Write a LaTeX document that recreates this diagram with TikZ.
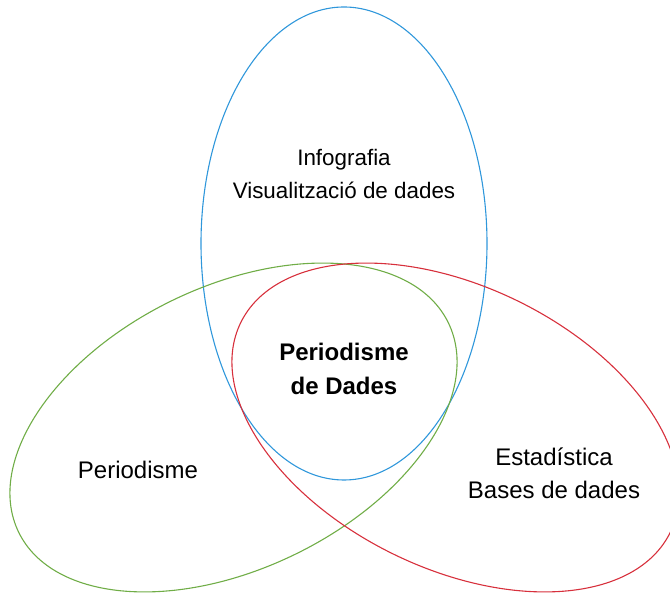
\documentclass[tikz,border=0pt]{standalone}
\usepackage{fontspec}
\setmainfont{Liberation Sans}
\definecolor{infoblue}{HTML}{2F97DB}
\definecolor{periogreen}{HTML}{70AD47}
\definecolor{statred}{HTML}{D7303C}
\begin{document}
\begin{tikzpicture}
  [x=1pt,y=1pt,line width=1.1pt,
   every node/.style={align=center,font=\fontsize{24}{33.3}\selectfont}]
\useasboundingbox (0,0) rectangle (670,594);
\begin{scope}
  \clip (0,0) rectangle (670,594);
  \draw[infoblue] (344,350.5) ellipse [x radius=143, y radius=236.5];
  \draw[periogreen,rotate around={26:(233.5,166.5)}]
    (233.5,166.5) ellipse [x radius=239, y radius=141];
  \draw[statred,rotate around={-26:(455.5,166.5)}]
    (455.5,166.5) ellipse [x radius=239, y radius=141];
\end{scope}

\node (info)[font=\fontsize{22.4}{33.3}\selectfont] at (344,420) {Infografia\\Visualització de dades};
\node (pdd)[font=\fontsize{24}{33.3}\selectfont\bfseries] at (344,225) {Periodisme\\de Dades};
\node (perio) at (138,124) {Periodisme};
\node (estad) at (554,121) {Estadística\\Bases de dades};
\end{tikzpicture}
\end{document}
